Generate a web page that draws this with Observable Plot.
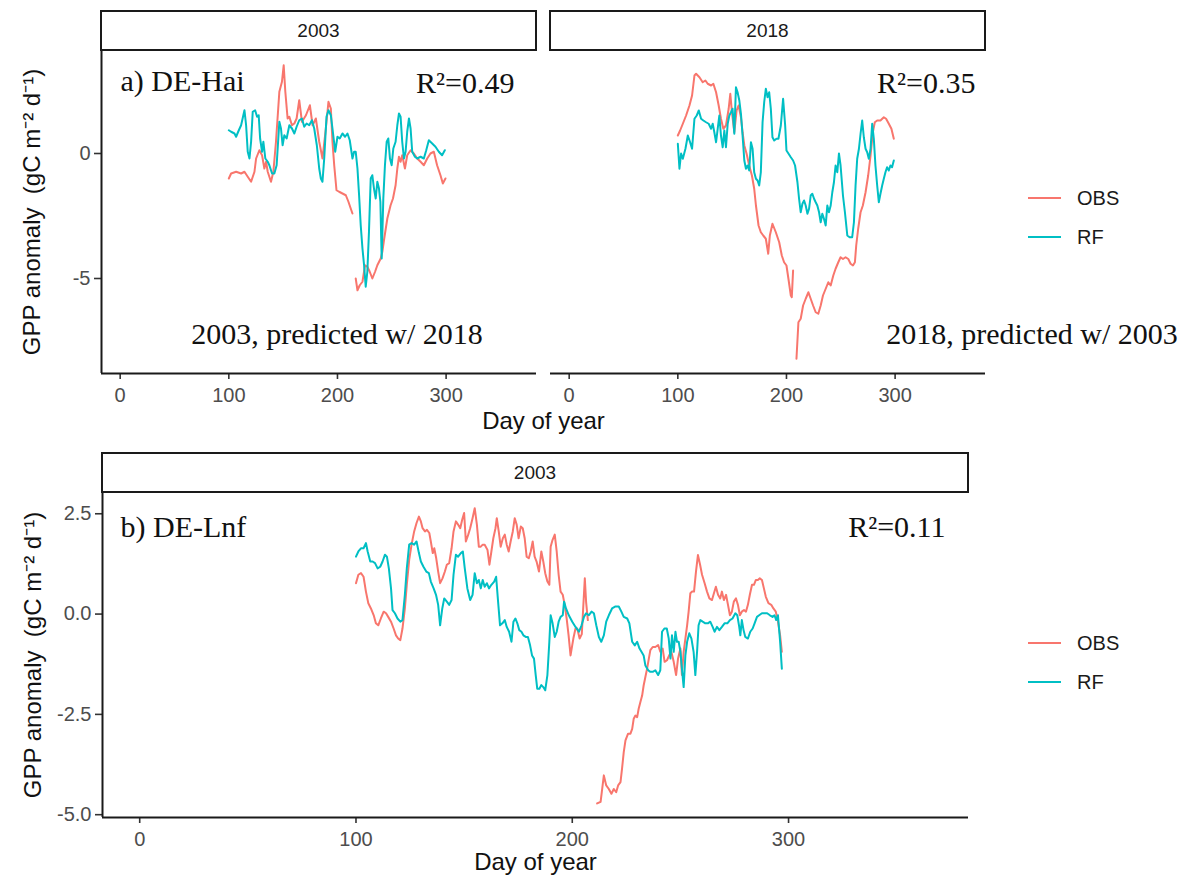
<!DOCTYPE html>
<html>
<head>
<meta charset="utf-8">
<script src="https://cdn.jsdelivr.net/npm/d3@7"></script>
<script src="https://cdn.jsdelivr.net/npm/@observablehq/plot@0.6"></script>
<style>
  html, body { margin: 0; padding: 0; background: #fff; }
  #root { position: relative; width: 1184px; height: 881px; overflow: hidden; background: #fff; }
  .strip { position: absolute; box-sizing: border-box; border: 2px solid #1a1a1a; background: #fff;
           font-family: 'Liberation Sans', Arial, sans-serif; font-size: 19px; color: #1a1a1a;
           display: flex; align-items: center; justify-content: center; }
  .leg { position: absolute; font-family: 'Liberation Sans', Arial, sans-serif; font-size: 20px; color: #1a1a1a;
         display: flex; align-items: center; height: 30px; }
  .leg svg { margin-right: 16px; }
</style>
</head>
<body>
<div id="root"></div>
<script>
// ---------------- data ----------------
const seriesNames = ["OBS", "RF"];
const seriesColors = ["#F8766D", "#00BFC4"];
const xTicks = [0, 100, 200, 300];
const yTicksHai = [-5, 0];
const yTicksLnf = [-5, -2.5, 0, 2.5];
const stripLabels = ["2003", "2018", "2003"];
const siteLabels = ["a) DE-Hai", "b) DE-Lnf"];
const r2Labels = ["R²=0.49", "R²=0.35", "R²=0.11"];
const predLabels = ["2003, predicted w/ 2018", "2018, predicted w/ 2003"];

// [day of year, GPP anomaly]; null = missing
const hai2003Obs = [[100,-1.0],[102.1,-0.8],[106.7,-0.73],[111.3,-0.8],[114.4,-0.73],[117.4,-0.93],[120.5,-1.13],[123.6,-0.73],[125.1,-0.2],[128.1,0.13],[130.6,-0.07],[132.7,-0.6],[134.3,-0.33],[135.8,-0.73],[138.8,-1.13],[141,-0.73],[143.4,0.47],[146.5,2.47],[148.9,2.87],[150.5,3.53],[152,2.47],[154.1,1.4],[155.7,1.47],[158.1,1.13],[160.3,1.2],[162.4,1.4],[164.8,2.13],[167.3,1.27],[171,1.53],[174.6,1.93],[177.1,1.13],[180.1,1.4],[183.2,0.47],[186.2,-0.2],[189.3,1.0],[191.7,2.07],[193.9,1.8],[195.4,0.47],[197,-0.47],[199.1,-1.47],[201.5,-1.53],[204.6,-1.6],[207.7,-1.67],[210.1,-1.93],[212.2,-2.2],[213.8,-2.4],[215.3,null],[216.8,-5.0],[218.4,-5.47],[220.5,-5.27],[223,-5.13],[225.4,-4.47],[227.5,-4.53],[229.7,-4.73],[232.1,-5.0],[234.6,-4.73],[236.7,-4.47],[239.8,-4.2],[241.3,-3.93],[242.8,-3.47],[245.9,-2.6],[248.9,-2.07],[251.1,-1.8],[253.5,-1.27],[255.1,-0.6],[256.6,-0.13],[258.1,-0.33],[259.6,-0.07],[262.1,-0.6],[264.2,-0.07],[267.3,0.13],[270.3,0],[273.4,-0.2],[276.5,-0.33],[279.5,-0.47],[282.6,-0.2],[285.6,0],[288.7,0.07],[291.7,-0.47],[294.8,-0.87],[297,-1.2],[299.4,-1.0]];
const hai2003Rf = [[100,0.93],[102.1,0.87],[105.2,0.8],[106.7,0.67],[109.2,0.93],[111.3,1.13],[114.4,1.73],[115.9,1.13],[117.4,0.07],[119,-0.2],[120.5,0.47],[122,1.67],[124.2,1.73],[126,1.47],[127.5,1.53],[128.8,0.6],[130.6,0.07],[131.8,0.47],[133.6,-0.2],[135.8,-0.33],[137.3,-0.47],[139.8,-0.8],[141.9,-0.8],[144,-0.47],[146.5,1.27],[148,1.0],[149.5,0.33],[151.1,0.73],[153.2,0.6],[155.7,1.13],[158.1,1.0],[160.3,0.8],[162.4,1.07],[164.8,1.33],[167.3,1.4],[169.4,1.07],[171.6,1.2],[174,1.13],[176.5,1.33],[178.6,1.0],[181,0.33],[183.2,-0.6],[184.7,-1.0],[186.2,-1.13],[187.8,-0.2],[189.9,1.47],[191.7,1.73],[193.9,1.53],[195.4,1.0],[197.9,0.07],[200,0.67],[202.1,0.6],[204.6,0.8],[207,0.67],[209.2,0.8],[211.3,0.53],[213.8,-0.2],[215.3,0.07],[216.8,0.07],[218.4,-0.6],[219.9,-1.67],[221.4,-2.87],[223,-3.8],[224.5,-4.47],[226,-5.33],[227.5,-4.73],[229,-3.13],[230.6,-1.0],[232.1,-0.87],[233.6,-1.4],[235.2,-1.8],[236.7,-1.13],[238.2,-1.4],[239.5,-1.93],[240.7,-4.2],[242.2,-1.8],[243.7,-0.47],[245.3,0.47],[246.8,0.6],[248.3,-0.2],[249.9,-0.47],[251.4,0.2],[253.5,0.47],[255.1,1.13],[256.6,1.6],[258.1,1.47],[259.6,0.47],[261.2,-0.2],[262.7,0.07],[264.2,0.87],[265.8,1.4],[267.3,1.0],[268.8,0.07],[271.3,-0.13],[273.4,-0.2],[276.5,-0.13],[279.5,-0.2],[281.7,0.13],[284.1,0.53],[287.2,0.4],[290.2,0.27],[293.3,0.07],[296.3,-0.07],[298.8,0.13]];
const hai2018Obs = [[100,0.72],[102.1,0.92],[104.6,1.19],[107.6,1.52],[110.7,1.92],[113.1,2.32],[115.3,3.12],[116.8,3.19],[119.9,3.05],[122.9,2.85],[125.4,2.92],[127.5,2.79],[130.6,2.72],[132.7,2.79],[135.2,2.45],[137.6,1.92],[139.7,1.39],[141.9,0.99],[144.3,1.12],[146.8,1.79],[148.3,2.39],[149.8,1.65],[152,0.85],[154.1,1.72],[155.9,1.92],[158.1,1.45],[159.6,0.85],[161.2,0.32],[163.3,-0.01],[165.7,-0.48],[168.2,-0.88],[170.3,-1.41],[171.9,-2.08],[174.3,-2.88],[176.4,-3.15],[178.6,-3.28],[181,-3.41],[183.2,-4.01],[184.7,-3.28],[187.1,-2.81],[190.2,-3.15],[193.3,-3.55],[195.7,-4.08],[197.8,-4.35],[200,-4.48],[201.8,-5.01],[204,-5.68],[204.9,-5.75],[206.1,-4.68],[207.5,null],[209.2,-8.21],[211,-6.75],[213.1,-6.61],[215.3,-6.08],[217.7,-5.81],[220.2,-5.55],[222.3,-5.81],[224.5,-6.08],[226.9,-6.35],[229.3,-6.41],[231.5,-6.08],[233.6,-5.68],[236.1,-5.41],[238.5,-5.15],[240.7,-5.28],[243.1,-4.88],[245.2,-4.61],[247.7,-4.35],[249.8,-4.15],[252,-4.22],[254.4,-4.15],[256.9,-4.22],[259,-4.41],[261.2,-4.48],[263,-4.35],[264.2,-3.68],[266,-3.01],[268.2,-2.35],[270.3,-2.08],[272.8,-1.55],[275.2,-0.88],[277.4,-0.08],[279.5,0.85],[281.3,1.25],[283.5,1.32],[286.5,1.32],[289.6,1.45],[291.7,1.39],[294.2,1.19],[296.6,0.99],[298.8,0.59]];
const hai2018Rf = [[100,0.39],[101.5,-0.61],[103,0],[104.6,-0.21],[107,0.19],[109.2,0.72],[111.3,0.45],[113.1,0.19],[115.3,1.39],[117.4,1.52],[119.3,1.72],[121.4,1.39],[123.5,1.32],[126,1.25],[128.4,1.19],[130.6,0.99],[132.1,1.19],[133.6,0.85],[135.2,0.45],[136.7,0.99],[138.2,1.52],[139.7,0.72],[141.3,0.25],[142.8,0.92],[144.3,0.25],[145.9,1.19],[147.4,1.52],[148.9,1.65],[150.4,1.79],[152,0.79],[153.5,2.65],[155,2.45],[156.6,2.12],[158.1,1.59],[159.6,0.72],[161.2,-0.28],[162.7,-0.61],[164.2,-0.48],[165.7,-0.68],[167.3,0.45],[168.8,0.19],[170.3,-0.75],[171.9,-1.01],[173.4,-1.08],[174.9,-1.28],[176.4,-0.75],[178,1.25],[179.5,2.05],[181,2.59],[182.6,2.25],[184.1,2.45],[185.6,1.79],[187.1,0.65],[188.7,0.52],[190.8,0.59],[192.6,0.59],[194.8,1.12],[196.9,2.19],[198.8,1.12],[200,0.12],[201.8,0],[204,-0.15],[206.1,-0.28],[207.9,-0.48],[210.1,-1.15],[211.6,-1.81],[213.1,-2.35],[214.7,-2.01],[216.2,-1.88],[217.7,-2.08],[219.3,-2.41],[220.8,-2.21],[222.3,-1.68],[223.8,-1.61],[225.4,-1.81],[226.9,-1.95],[228.4,-2.08],[230,-2.35],[231.5,-2.75],[233,-2.41],[234.5,-2.61],[236.1,-2.88],[237.6,-2.08],[239.1,-2.35],[240.7,-2.08],[242.2,-1.55],[243.7,-1.15],[245.2,-0.48],[246.8,-0.75],[248.3,0],[249.8,-0.48],[252,-1.68],[253.8,-2.35],[256,-3.28],[258.1,-3.35],[260.5,-3.35],[262.1,-2.75],[263.6,-1.28],[265.1,-0.21],[266.7,0.19],[268.2,0.79],[269.7,1.32],[271.2,0.65],[272.8,0.19],[274.3,0.05],[275.8,-0.21],[277.4,0.19],[278.9,1.19],[280.4,0.59],[281.9,-0.48],[283.5,-1.28],[285,-1.95],[286.5,-1.61],[288.1,-1.28],[289.6,-1.01],[291.1,-0.75],[292.6,-0.55],[294.2,-0.68],[295.7,-0.48],[297.2,-0.55],[298.8,-0.28]];
const lnf2003Obs = [[100,0.77],[101.1,0.98],[102.3,1.02],[103.5,0.93],[104.6,0.56],[105.7,0.27],[106.9,0.14],[108.2,-0.03],[109.2,-0.23],[110.3,-0.28],[111.5,-0.11],[112.8,0.06],[113.9,0.02],[114.9,-0.07],[116.2,-0.19],[117.4,-0.36],[118.5,-0.53],[119.5,-0.61],[120.5,-0.65],[121.5,-0.36],[122.6,0.14],[123.5,0.73],[124.6,1.35],[125.7,1.73],[126.9,2.06],[128,2.27],[129.1,2.43],[130,2.31],[130.8,2.14],[131.9,2.06],[132.8,2.1],[133.9,2.02],[134.6,1.81],[135.5,1.52],[136.2,1.64],[137.1,1.39],[138,1.06],[138.9,0.77],[140,0.89],[141.1,1.06],[142,1.23],[143.1,1.27],[144.2,1.64],[145.1,2.06],[146.2,2.31],[147.2,2.23],[148.2,2.14],[149.1,2.35],[150,2.52],[150.8,1.81],[151.9,1.98],[152.8,2.14],[153.9,2.39],[154.9,2.64],[155.9,2.23],[156.8,1.68],[157.7,1.68],[158.6,1.73],[159.5,1.73],[160.8,1.6],[161.7,1.23],[162.6,1.56],[163.5,1.89],[164.5,2.14],[165.1,2.39],[166,2.06],[166.9,1.68],[167.9,1.89],[168.8,1.98],[169.7,1.73],[170.6,1.56],[171.5,1.81],[172.5,2.06],[173.4,2.39],[174.3,2.23],[175.2,1.89],[176.2,2.18],[177.1,2.14],[178,1.89],[178.9,1.43],[179.9,1.39],[180.8,1.56],[181.7,1.81],[182.6,1.43],[183.5,1.31],[184.6,1.06],[185.7,1.56],[186.6,1.31],[187.5,1.02],[188.5,0.81],[189.4,0.73],[190,1.68],[190.9,1.85],[191.9,1.98],[192.8,1.56],[193.7,0.98],[194.6,0.56],[195.6,0.48],[196.5,0.23],[197.4,-0.11],[198.3,-0.53],[199.2,-1.03],[200.5,-0.61],[201.5,-0.36],[202.3,-0.36],[203.4,-0.61],[204.4,-0.5],[205.8,0.89],[206.4,0.3],[207.2,-0.15],[209,null],[211.5,-4.72],[213.1,-4.68],[214.6,-4.02],[215.7,-4.27],[216.9,-4.36],[218.1,-4.48],[219.2,-4.36],[220.3,-4.44],[221.2,-4.27],[222.3,-4.19],[223,-3.86],[223.8,-3.44],[224.6,-3.15],[225.8,-2.98],[226.9,-2.98],[227.7,-2.86],[228.4,-2.61],[229.2,-2.53],[230,-2.57],[230.7,-2.36],[231.5,-2.19],[232.3,-2.03],[233,-1.78],[233.8,-1.57],[234.6,-1.36],[235.4,-1.11],[236.1,-0.9],[237.2,-0.82],[238.4,-0.82],[239.7,-0.77],[240.7,-0.94],[241.8,-0.86],[242.7,-1.19],[243.8,-1.15],[244.9,-1.02],[245.8,-0.94],[246.9,-1.19],[248,-1.52],[248.9,-1.11],[250,-0.86],[250.7,-1.52],[251.5,-0.94],[252.3,-0.61],[253.1,-0.28],[253.8,0.06],[254.6,0.52],[255.4,0.56],[256.3,0.56],[257.2,1.06],[258.1,1.47],[259.1,1.23],[260,0.98],[261.2,0.77],[262.3,0.56],[263.4,0.39],[264.6,0.35],[265.5,0.52],[266.4,0.68],[267.4,0.48],[268.4,0.39],[269.2,0.56],[270.1,0.35],[271.1,0.48],[272,0.23],[272.9,-0.03],[273.8,0.06],[274.7,0.31],[275.7,0.39],[276.6,0.23],[277.5,-0.03],[278.4,0.06],[279.4,0.1],[280.3,0.06],[281.2,0.23],[282.1,0.48],[283.1,0.73],[284,0.73],[284.9,0.85],[285.8,0.85],[286.7,0.89],[287.7,0.85],[288.6,0.64],[289.5,0.43],[290.7,0.27],[292,0.23],[293,0.14],[294.1,0.06],[295,-0.15],[296.1,-0.53],[296.9,-0.94]];
const lnf2003Rf = [[100,1.43],[101.1,1.56],[102.3,1.64],[103.5,1.64],[104.6,1.77],[105.4,1.56],[106.6,1.31],[107.7,1.31],[108.8,1.27],[110,1.14],[111.2,1.18],[112.3,1.31],[113.4,1.48],[114.3,1.43],[115.2,1.14],[116.2,0.64],[116.9,0.1],[118,0.02],[119.2,-0.11],[120.5,-0.19],[121.5,-0.15],[122.6,0.48],[123.5,1.14],[124.6,1.73],[125.7,1.77],[126.9,1.73],[128,1.81],[129.1,1.52],[130,1.31],[131.2,1.18],[132.5,1.06],[133.7,1.02],[134.6,0.81],[135.9,0.64],[137,0.48],[138,0.23],[138.9,-0.28],[139.9,0.14],[140.8,0.39],[142,0.31],[143.1,0.23],[144.2,0.35],[145.1,0.98],[146.2,1.48],[147.2,1.43],[148.5,1.52],[149.4,1.56],[150.3,1.14],[151.5,0.64],[152.8,0.35],[153.9,0.48],[154.9,1.02],[155.9,0.77],[156.8,0.85],[157.7,0.64],[158.6,0.85],[159.5,0.68],[160.5,0.77],[161.5,0.64],[162.6,0.73],[163.9,0.81],[164.8,0.93],[165.7,0.31],[166.6,-0.28],[167.7,-0.23],[168.8,-0.15],[169.7,-0.32],[170.8,-0.44],[171.9,-0.69],[172.8,-0.19],[173.7,-0.11],[174.6,-0.23],[175.5,-0.4],[176.5,-0.44],[177.4,-0.53],[178.5,-0.57],[179.5,-0.57],[180.5,-0.78],[181.4,-1.03],[182.3,-1.11],[183.1,-1.52],[183.8,-1.86],[184.8,-1.86],[185.7,-1.77],[186.6,-1.82],[187.5,-1.9],[188.5,-1.52],[189.4,-0.69],[190,-0.03],[190.9,-0.23],[191.9,-0.57],[192.8,-0.44],[193.7,-0.19],[194.6,-0.07],[195.6,-0.03],[196.2,0.31],[197.1,0.14],[198.4,-0.03],[200,-0.19],[201.5,-0.32],[203.1,-0.44],[204.3,-0.28],[205.4,-0.07],[206.4,0.02],[207.7,-0.03],[208.9,0.06],[210,0.02],[211.1,-0.28],[212.3,-0.57],[213.4,-0.69],[214.6,-0.53],[215.7,-0.19],[216.9,-0.03],[218.4,0.14],[220,0.19],[221.5,0.19],[222.7,0.06],[223.8,-0.07],[225.4,-0.11],[226.4,-0.23],[227.7,-0.69],[228.9,-0.78],[230,-0.69],[231.1,-0.86],[232,-0.94],[233,-1.03],[233.8,-1.28],[235.1,-1.4],[236.1,-1.44],[237.2,-1.44],[238.4,-1.4],[239.7,-1.52],[240.7,-1.4],[241.5,-0.44],[242.6,-0.36],[243.7,-0.36],[244.6,-0.61],[245.4,-1.11],[246.1,-0.53],[246.9,-0.94],[247.7,-0.44],[248.4,-0.69],[249.2,-0.69],[250,-0.94],[250.7,-1.36],[251.5,-1.82],[252.3,-1.03],[253.1,-0.69],[254.1,-0.48],[255.1,-0.61],[256.1,-0.94],[256.9,-1.52],[257.7,-0.94],[258.4,-0.28],[259.2,-0.15],[260.3,-0.19],[261.5,-0.23],[262.7,-0.23],[263.8,-0.19],[264.9,-0.32],[265.8,-0.44],[266.9,-0.32],[268,-0.4],[269.2,-0.32],[270.4,-0.23],[271.7,-0.23],[272.9,-0.15],[274.1,-0.11],[275.4,0.02],[276.3,-0.03],[277.2,-0.32],[277.7,-0.53],[278.4,-0.15],[279.2,-0.4],[280,-0.57],[281.2,-0.61],[282.3,-0.44],[283.4,-0.36],[284.3,-0.23],[285.4,-0.07],[286.4,-0.03],[287.7,0.02],[288.9,0.02],[290.1,0.02],[291.4,-0.03],[292.6,-0.07],[293.5,-0.03],[294.3,-0.15],[295.1,-0.03],[296.1,-0.69],[296.9,-1.36]];

// ---------------- layout / style ----------------
const SANS = "'Liberation Sans', Arial, Helvetica, sans-serif";
const SERIF = "'Liberation Serif', 'Times New Roman', serif";
const TICK_FONT = 20;

const xDomain = [1 - 0.05 * 364, 365 + 0.05 * 364];
const yDomainHai = [-8.8, 4.12];
const yDomainLnf = [-5.07, 3.03];
const colorOpt = {domain: seriesNames, range: seriesColors};
const rows = (obs, rf) => [
  ...obs.map(([d, v]) => ({day: d, value: v, series: seriesNames[0]})),
  ...rf.map(([d, v]) => ({day: d, value: v, series: seriesNames[1]}))
];
const tickStyle = {stroke: "#333", strokeWidth: 1.6, label: null, tickFormat: () => ""};
const xAxisMarks = () => [
  Plot.axisX({ticks: xTicks, tickSize: 6, ...tickStyle}),
  Plot.text(xTicks, {x: d => d, text: d => String(d), frameAnchor: "bottom", lineAnchor: "middle", textAnchor: "middle",
                     dy: 22, fontSize: TICK_FONT, fontFamily: SANS, fill: "#4d4d4d"})
];
const yAxisMarks = (ticks, fmt) => [
  Plot.axisY({ticks, tickSize: 7, ...tickStyle}),
  Plot.text(ticks, {y: d => d, text: fmt, frameAnchor: "left", lineAnchor: "middle", textAnchor: "end",
                    dx: -11, fontSize: TICK_FONT, fontFamily: SANS, fill: "#4d4d4d"})
];
const lineMark = (data) => Plot.line(data, {x: "day", y: "value", z: "series", stroke: "series", strokeWidth: 2});
const serifText = (s, o) => Plot.text([s], {fontFamily: SERIF, fontSize: 30, fill: "#111", lineAnchor: "middle", ...o});
const sansTitle = (s, o) => Plot.text([s], {fontFamily: SANS, fontSize: 24, fill: "#111", textAnchor: "middle", lineAnchor: "middle", ...o});
const fmt1 = d => d.toFixed(1);
const svgStyle = {background: "none", overflow: "visible", fontFamily: SANS};

const root = document.getElementById("root");
function place(svg, left, top) {
  svg.style.position = "absolute";
  svg.style.left = left + "px";
  svg.style.top = top + "px";
  svg.style.overflow = "visible";
  svg.style.background = "none";
  root.appendChild(svg);
}

// ---- a) DE-Hai 2003 ----
const pA = Plot.plot({
  width: 543, height: 410,
  marginLeft: 101, marginRight: 7, marginTop: 50, marginBottom: 37,
  style: svgStyle,
  x: {domain: xDomain},
  y: {domain: yDomainHai},
  color: colorOpt,
  marks: [
    ...xAxisMarks(),
    ...yAxisMarks(yTicksHai, d => String(d)),
    Plot.ruleX([xDomain[0]], {stroke: "#1a1a1a", strokeWidth: 2}),
    Plot.ruleY([yDomainHai[0]], {stroke: "#1a1a1a", strokeWidth: 2}),
    lineMark(rows(hai2003Obs, hai2003Rf)),
    serifText(siteLabels[0], {frameAnchor: "top-left", textAnchor: "start", dx: 19, dy: 31}),
    serifText(r2Labels[0], {frameAnchor: "top-right", textAnchor: "end", dx: -22, dy: 33}),
    serifText(predLabels[0], {frameAnchor: "bottom", textAnchor: "middle", dx: 18, dy: -39}),
    sansTitle("GPP anomaly  (gC m⁻² d⁻¹)", {frameAnchor: "left", dx: -69, rotate: -90}),
    sansTitle("Day of year", {frameAnchor: "bottom-right", dx: 7, dy: 48})
  ]
});
place(pA, 0, 0);

// ---- a) DE-Hai 2018 ----
const pB = Plot.plot({
  width: 460, height: 410,
  marginLeft: 7, marginRight: 18, marginTop: 50, marginBottom: 37,
  style: svgStyle,
  x: {domain: xDomain},
  y: {domain: yDomainHai, axis: null},
  color: colorOpt,
  marks: [
    ...xAxisMarks(),
    Plot.ruleY([yDomainHai[0]], {stroke: "#1a1a1a", strokeWidth: 2}),
    lineMark(rows(hai2018Obs, hai2018Rf)),
    serifText(r2Labels[1], {frameAnchor: "top-right", textAnchor: "end", dx: -10, dy: 33}),
    serifText(predLabels[1], {frameAnchor: "bottom", textAnchor: "middle", dx: 264, dy: -39})
  ]
});
place(pB, 543, 0);

// ---- b) DE-Lnf 2003 ----
const pC = Plot.plot({
  width: 975, height: 441,
  marginLeft: 102, marginRight: 7, marginTop: 52, marginBottom: 64,
  style: svgStyle,
  x: {domain: xDomain},
  y: {domain: yDomainLnf},
  color: colorOpt,
  marks: [
    ...xAxisMarks(),
    ...yAxisMarks(yTicksLnf, fmt1),
    Plot.ruleX([xDomain[0]], {stroke: "#1a1a1a", strokeWidth: 2}),
    Plot.ruleY([yDomainLnf[0]], {stroke: "#1a1a1a", strokeWidth: 2}),
    lineMark(rows(lnf2003Obs, lnf2003Rf)),
    serifText(siteLabels[1], {frameAnchor: "top-left", textAnchor: "start", dx: 18, dy: 35}),
    serifText(r2Labels[2], {frameAnchor: "top-right", textAnchor: "end", dx: -23, dy: 35}),
    sansTitle("GPP anomaly  (gC m⁻² d⁻¹)", {frameAnchor: "left", dx: -69, rotate: -90}),
    sansTitle("Day of year", {frameAnchor: "bottom", dy: 45})
  ]
});
place(pC, 0, 440);

// ---- strips ----
function strip(label, left, top, width, height) {
  const d = document.createElement("div");
  d.className = "strip";
  d.textContent = label;
  Object.assign(d.style, {left: left + "px", top: top + "px", width: width + "px", height: height + "px"});
  root.appendChild(d);
}
strip(stripLabels[0], 100, 10, 437, 41);
strip(stripLabels[1], 549, 10, 437, 41);
strip(stripLabels[2], 101, 452, 868, 41);

// ---- legends ----
function legend(top) {
  seriesNames.forEach((name, i) => {
    const d = document.createElement("div");
    d.className = "leg";
    Object.assign(d.style, {left: "1028px", top: (top + i * 39 - 15) + "px"});
    d.innerHTML = `<svg width="33" height="4"><line x1="0" x2="33" y1="2" y2="2" stroke="${seriesColors[i]}" stroke-width="2"/></svg><span>${name}</span>`;
    root.appendChild(d);
  });
}
legend(198);
legend(643);
</script>
</body>
</html>
